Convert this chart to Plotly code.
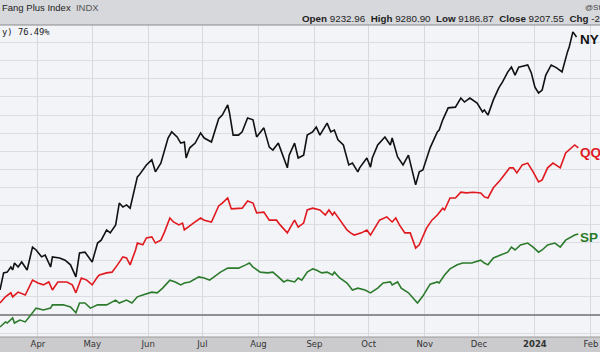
import pandas as pd
import plotly.graph_objects as go

# ---- data (x = calendar days after 2023-03-11, y = % change) ----
base_date = "2023-03-11"

nyfang_days = [0, 2, 4, 6, 7, 8, 10, 12, 15, 18, 20, 23, 25, 28, 29, 33, 36, 39, 42, 44, 47, 51, 54, 56, 59, 61, 64, 66, 68, 70, 72, 74, 76, 77, 79, 81, 84, 86, 89, 91, 93, 95, 98, 100, 102, 103, 105, 108, 111, 113, 117, 121, 123, 126, 127, 129, 132, 134, 137, 140, 142, 146, 149, 151, 154, 159, 160, 163, 165, 168, 170, 173, 175, 177, 181, 183, 185, 187, 190, 193, 195, 198, 199, 203, 205, 206, 209, 213, 216, 217, 220, 223, 226, 230, 232, 234, 238, 242, 243, 245, 248, 252, 255, 257, 260, 264, 267, 268, 270, 273, 276, 278, 281, 283, 285, 287, 291, 292, 294, 296, 298, 300, 302, 305, 308, 311, 314, 315, 317, 319]
nyfang_pct = [6.9, 11.6, 11.8, 13.2, 12.4, 14.3, 13.2, 14.6, 12.4, 18.7, 17.9, 16.0, 16.5, 13.2, 16.0, 15.7, 15.1, 13.8, 10.5, 17.1, 17.3, 14.6, 19.8, 20.6, 23.4, 22.6, 24.8, 30.8, 29.7, 30.3, 29.4, 33.6, 38.0, 38.5, 39.9, 41.3, 42.7, 39.4, 41.8, 45.4, 48.7, 50.4, 49.0, 47.3, 47.6, 43.2, 46.0, 47.3, 50.1, 48.7, 47.6, 54.0, 55.0, 57.8, 55.6, 49.5, 49.5, 50.4, 54.2, 53.7, 49.0, 51.5, 46.2, 45.4, 47.3, 40.5, 44.0, 47.3, 43.2, 44.0, 49.5, 50.4, 51.7, 49.5, 52.8, 50.4, 50.9, 48.2, 46.8, 41.3, 41.8, 39.4, 40.5, 43.2, 40.7, 43.2, 46.8, 49.0, 46.8, 48.7, 43.5, 41.3, 44.0, 35.8, 39.4, 39.9, 46.0, 50.4, 50.9, 53.7, 57.0, 57.2, 59.7, 58.6, 59.7, 58.3, 55.9, 56.4, 55.0, 59.2, 62.5, 64.1, 66.9, 68.2, 66.0, 68.2, 68.8, 68.8, 66.6, 62.7, 61.1, 61.9, 66.0, 68.8, 68.0, 66.9, 72.4, 73.8, 77.9, 76.5]

qqq_days = [0, 3, 6, 7, 10, 14, 18, 21, 24, 27, 29, 32, 37, 40, 42, 45, 48, 51, 54, 55, 59, 62, 65, 68, 70, 72, 75, 76, 79, 81, 84, 86, 89, 91, 94, 96, 99, 101, 102, 104, 107, 111, 113, 117, 121, 123, 126, 128, 131, 134, 137, 140, 142, 146, 149, 153, 155, 159, 162, 163, 165, 168, 170, 173, 177, 180, 182, 184, 185, 188, 192, 194, 196, 200, 203, 205, 206, 210, 214, 217, 219, 221, 224, 227, 230, 232, 236, 239, 242, 245, 246, 249, 252, 255, 258, 262, 266, 268, 270, 273, 277, 279, 282, 284, 286, 289, 292, 295, 298, 300, 303, 306, 310, 313, 315, 318, 320]
qqq_pct = [3.3, 5.0, 6.1, 5.0, 6.3, 5.5, 9.6, 8.8, 8.3, 9.1, 6.9, 9.1, 9.1, 8.3, 6.1, 10.2, 9.6, 8.3, 10.5, 11.0, 11.6, 11.8, 13.8, 16.0, 15.7, 13.8, 17.9, 19.8, 19.3, 21.2, 21.5, 19.8, 20.6, 22.8, 26.7, 25.6, 24.8, 25.3, 23.4, 24.2, 25.3, 26.7, 26.1, 25.6, 30.0, 30.8, 32.2, 29.2, 29.2, 29.4, 31.4, 30.8, 28.1, 28.3, 26.1, 26.1, 24.8, 22.6, 25.3, 26.1, 24.2, 25.3, 28.9, 29.4, 28.9, 27.5, 28.9, 27.5, 28.3, 26.1, 23.4, 22.6, 22.0, 22.6, 23.4, 22.0, 22.8, 26.1, 27.0, 25.6, 26.7, 24.8, 22.6, 22.6, 18.4, 19.3, 23.9, 26.1, 27.5, 29.4, 28.9, 32.2, 32.2, 33.8, 33.6, 33.8, 33.6, 32.5, 32.2, 35.0, 37.2, 38.5, 40.5, 40.5, 39.1, 41.3, 41.8, 39.4, 36.6, 37.2, 40.5, 41.8, 40.5, 44.6, 45.4, 46.8, 46.0]

spy_days = [0, 3, 4, 7, 8, 11, 14, 18, 20, 24, 28, 29, 35, 39, 42, 44, 47, 50, 54, 59, 64, 66, 70, 73, 76, 79, 84, 87, 90, 94, 97, 100, 102, 105, 110, 113, 116, 122, 126, 128, 132, 136, 138, 140, 144, 148, 151, 154, 157, 159, 163, 165, 167, 170, 173, 175, 178, 181, 184, 185, 188, 192, 195, 198, 202, 205, 209, 212, 216, 217, 220, 222, 226, 231, 234, 238, 242, 243, 246, 249, 253, 256, 261, 266, 268, 270, 273, 277, 281, 283, 285, 288, 292, 295, 298, 300, 303, 307, 310, 313, 315, 318, 320]
spy_pct = [-3.3, -1.9, -2.2, -0.8, -2.2, -1.4, -1.9, 0.6, 1.9, 1.4, 1.9, 2.8, 2.8, 2.2, 0.6, 3.3, 3.3, 1.9, 2.8, 2.8, 4.1, 3.3, 4.1, 3.3, 5.0, 5.5, 6.3, 6.1, 7.4, 9.6, 9.1, 8.3, 8.8, 9.1, 10.5, 10.2, 9.6, 11.8, 12.9, 12.9, 12.9, 13.8, 14.3, 13.2, 11.8, 11.6, 11.8, 10.5, 9.1, 9.6, 9.1, 10.2, 9.6, 11.8, 12.7, 12.4, 11.6, 11.8, 11.0, 11.8, 10.2, 8.8, 6.9, 7.4, 6.9, 6.1, 7.4, 8.8, 9.1, 8.3, 9.1, 7.4, 6.1, 3.3, 5.2, 8.5, 9.1, 8.8, 11.0, 12.7, 13.8, 14.3, 14.3, 15.1, 14.3, 13.8, 15.7, 16.5, 17.3, 18.7, 17.9, 19.3, 19.8, 18.7, 17.3, 17.9, 19.3, 19.8, 18.7, 20.6, 21.2, 22.0, 22.3]

series_names = ["NYFANG", "QQQ", "SPY"]
series_labels = ["NY", "QQ", "SP"]          # visible (cropped) end labels
series_colors = ["#111111", "#e0191f", "#2c7a2c"]
label_pct = [75.7, 44.6, 21.2]

month_starts = ["2023-04-01", "2023-05-01", "2023-06-01", "2023-07-01", "2023-08-01",
                "2023-09-01", "2023-10-01", "2023-11-01", "2023-12-01", "2024-01-01", "2024-02-01"]
month_labels = ["Apr", "May", "Jun", "Jul", "Aug", "Sep", "Oct", "Nov", "Dec", "<b>2024</b>", "Feb"]

title_text = "Fang Plus Index  <span style='color:#555'>INDX</span>"
ohlc_text = ("<b>Open</b> 9232.96  <b>High</b> 9280.90  <b>Low</b> 9186.87  "
             "<b>Close</b> 9207.55  <b>Chg</b> -2")
perf_text = "y) 76.49%"
credit_text = "@St"

# ---- figure ----
base = pd.Timestamp(base_date)
def to_dates(days):
    return [base + pd.Timedelta(days=d) for d in days]

fig = go.Figure()
for name, days, vals, col in zip(series_names, [nyfang_days, qqq_days, spy_days],
                                 [nyfang_pct, qqq_pct, spy_pct], series_colors):
    fig.add_trace(go.Scatter(x=to_dates(days), y=vals, mode="lines", name=name,
                             line=dict(color=col, width=1.6), showlegend=False))

x_end = base + pd.Timedelta(days=332)
label_x = base + pd.Timedelta(days=320)

H = 352.0
fig.update_layout(
    width=600, height=352, template="none",
    margin=dict(l=0, r=0, t=0, b=0, pad=0),
    paper_bgcolor="#ffffff", plot_bgcolor="#f3f4f8",
    xaxis=dict(type="date", range=[base, x_end], domain=[0, 1],
               tickvals=month_starts, ticktext=month_labels,
               showgrid=True, gridcolor="#d8d9e0", gridwidth=1,
               ticks="", showline=False, zeroline=False, automargin=False,
               tickfont=dict(family="DejaVu Sans", size=8.5, color="#333333")),
    yaxis=dict(range=[-6.05, 79.8], domain=[15 / H, 1 - 25 / H], dtick=5,
               showgrid=True, gridcolor="#dcdde3", gridwidth=1,
               zeroline=True, zerolinecolor="#8f8f8f", zerolinewidth=1.5,
               showticklabels=False, ticks="", automargin=False),
)

shapes = [
    dict(type="rect", xref="paper", yref="paper", x0=0, x1=1, y0=1 - 25 / H, y1=1,
         fillcolor="#d7d8dc", line=dict(width=0), layer="below"),
    dict(type="line", xref="paper", yref="paper", x0=0, x1=1, y0=1 - 25 / H, y1=1 - 25 / H,
         line=dict(color="#8a8a8a", width=1)),
    dict(type="rect", xref="paper", yref="paper", x0=0, x1=1, y0=0, y1=15 / H,
         fillcolor="#cbcbcd", line=dict(width=0), layer="below"),
    dict(type="line", xref="paper", yref="paper", x0=0, x1=1, y0=15 / H, y1=15 / H,
         line=dict(color="#9a9a9a", width=1)),
]
fig.update_layout(shapes=shapes)

annotations = [
    dict(xref="paper", yref="paper", x=0, y=1 - 8 / H, xanchor="left", yanchor="middle",
         text=title_text, showarrow=False,
         font=dict(family="Liberation Sans", size=9.5, color="#222222")),
    dict(xref="paper", yref="paper", x=300 / 600, y=1 - 19 / H, xanchor="left", yanchor="middle",
         text=ohlc_text, showarrow=False,
         font=dict(family="Liberation Sans", size=9.8, color="#222222")),
    dict(xref="paper", yref="paper", x=583 / 600, y=1 - 7 / H, xanchor="left", yanchor="middle",
         text=credit_text, showarrow=False,
         font=dict(family="Liberation Sans", size=8, color="#444444")),
    dict(xref="paper", yref="paper", x=0, y=1 - 32 / H, xanchor="left", yanchor="middle",
         text=perf_text, showarrow=False,
         font=dict(family="DejaVu Sans Mono", size=8.8, color="#222222")),
]
for lab, col, yp in zip(series_labels, series_colors, label_pct):
    annotations.append(dict(x=label_x, y=yp, xref="x", yref="y", xanchor="left", yanchor="middle",
                            text="<b>%s</b>" % lab, showarrow=False,
                            font=dict(family="Liberation Sans", size=13.5, color=col)))
fig.update_layout(annotations=annotations)

fig.write_html("out.html")
